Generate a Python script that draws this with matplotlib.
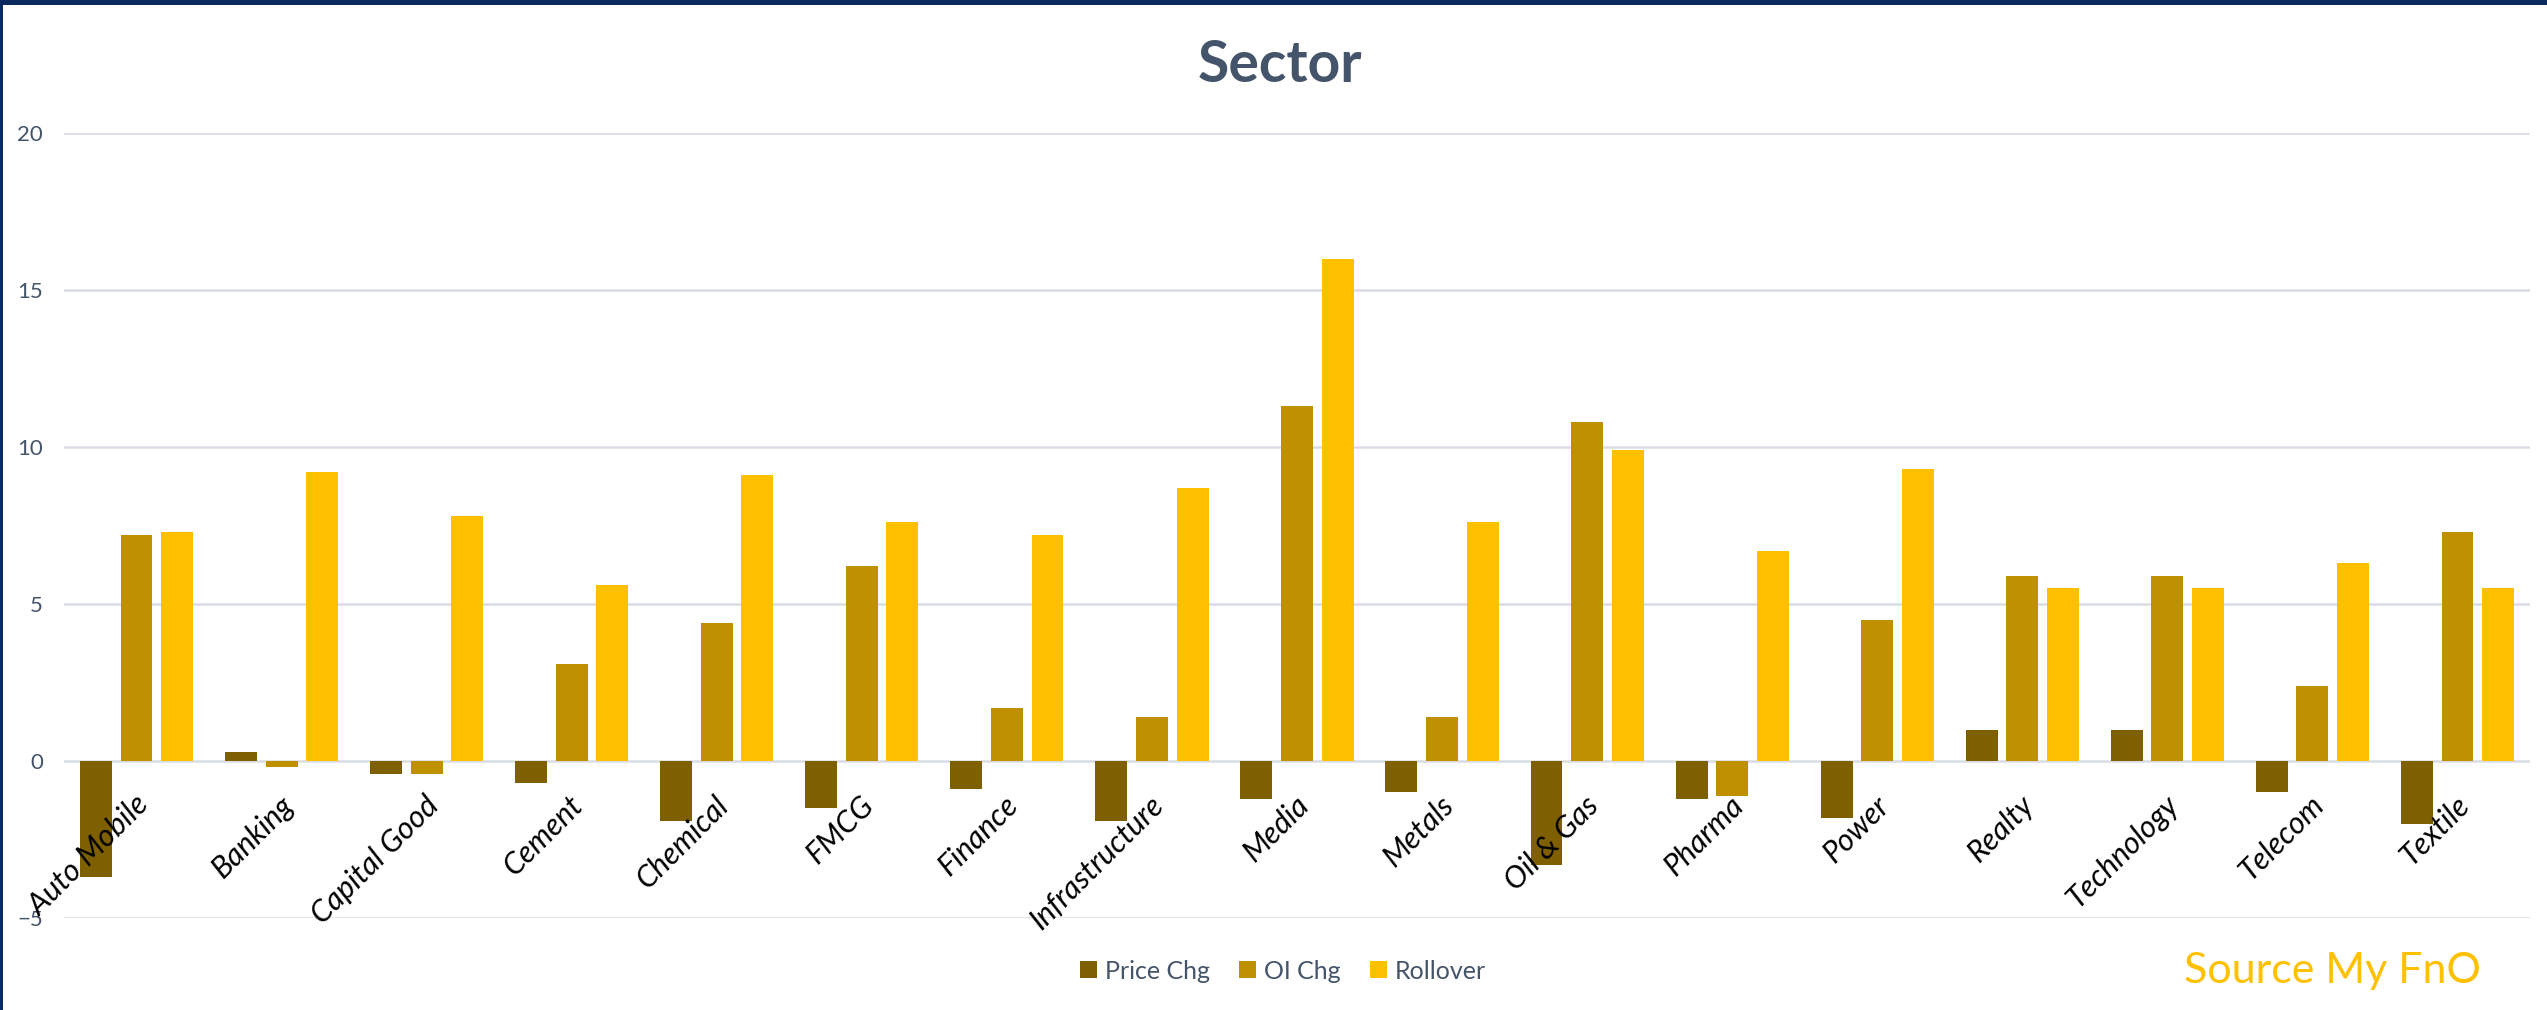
import matplotlib
matplotlib.use("Agg")
import matplotlib.pyplot as plt
from matplotlib.patches import Patch, Rectangle
import numpy as np

plt.rcParams['font.family'] = ['Lato', 'DejaVu Sans']

sectors = ["Auto Mobile", "Banking", "Capital Good", "Cement", "Chemical", "FMCG",
           "Finance", "Infrastructure", "Media", "Metals", "Oil & Gas", "Pharma",
           "Power", "Realty", "Technology", "Telecom", "Textile"]
price_chg = [-3.7, 0.3, -0.4, -0.7, -1.9, -1.5, -0.9, -1.9, -1.2, -1.0, -3.3, -1.2,
             -1.8, 1.0, 1.0, -1.0, -2.0]
oi_chg = [7.2, -0.2, -0.4, 3.1, 4.4, 6.2, 1.7, 1.4, 11.3, 1.4, 10.8, -1.1,
          4.5, 5.9, 5.9, 2.4, 7.3]
rollover = [7.3, 9.2, 7.8, 5.6, 9.1, 7.6, 7.2, 8.7, 16.0, 7.6, 9.9, 6.7,
            9.3, 5.5, 5.5, 6.3, 5.5]
yticks = [-5, 0, 5, 10, 15, 20]

series = [("Price Chg", price_chg, "#7F6000"),
          ("OI Chg", oi_chg, "#BF9000"),
          ("Rollover", rollover, "#FFC000")]

text_col = "#44546A"

fig = plt.figure(figsize=(25.47, 10.10), dpi=100)
ax = fig.add_axes([64 / 2547, 0.0911, 2466 / 2547, 0.7772])

x = np.arange(len(sectors))
w = 0.22
step = 0.28
for i, (name, vals, col) in enumerate(series):
    ax.bar(x + (i - 1) * step, vals, width=w, color=col, zorder=2)

ax.set_xlim(-0.5, len(sectors) - 0.5)
ax.set_ylim(-5, 20)
ax.set_yticks(yticks)
ax.set_xticks([])
ax.set_axisbelow(True)
ax.grid(axis='y', color="#D9DDE3", linewidth=1.8)
for s in ax.spines.values():
    s.set_visible(False)
ax.tick_params(axis='y', length=0, pad=15, labelsize=16, labelcolor=text_col)

# category labels drawn over the bars, like the original
for xi, name in zip(x, sectors):
    ax.text(xi - 0.02, -0.95, name, rotation=45, rotation_mode='anchor',
            ha='right', va='top', fontsize=22, style='italic', color='black',
            zorder=5, clip_on=False)

fig.text(0.5026, 0.9356, "Sector", ha='center', va='center', fontsize=41,
         fontweight='bold', color=text_col)

handles = [Patch(facecolor=c, label=n) for n, _, c in series]
fig.legend(handles=handles, loc='center', bbox_to_anchor=(0.5037, 0.0386), ncol=3,
           frameon=False, fontsize=18, handlelength=0.68, handleheight=0.68,
           handletextpad=0.32, columnspacing=1.16, labelcolor=text_col)

fig.text(0.974, 0.0386, "Source My FnO", ha='right', va='center', fontsize=31,
         color="#FFC000")

# dark frame at top and left
fig.add_artist(Rectangle((0, 1 - 5 / 1010), 1, 5 / 1010, transform=fig.transFigure,
                         facecolor="#0B2A60", edgecolor='none'))
fig.add_artist(Rectangle((0, 0), 3 / 2547, 1, transform=fig.transFigure,
                         facecolor="#0B2A60", edgecolor='none'))

fig.savefig("out.png", dpi=100)
